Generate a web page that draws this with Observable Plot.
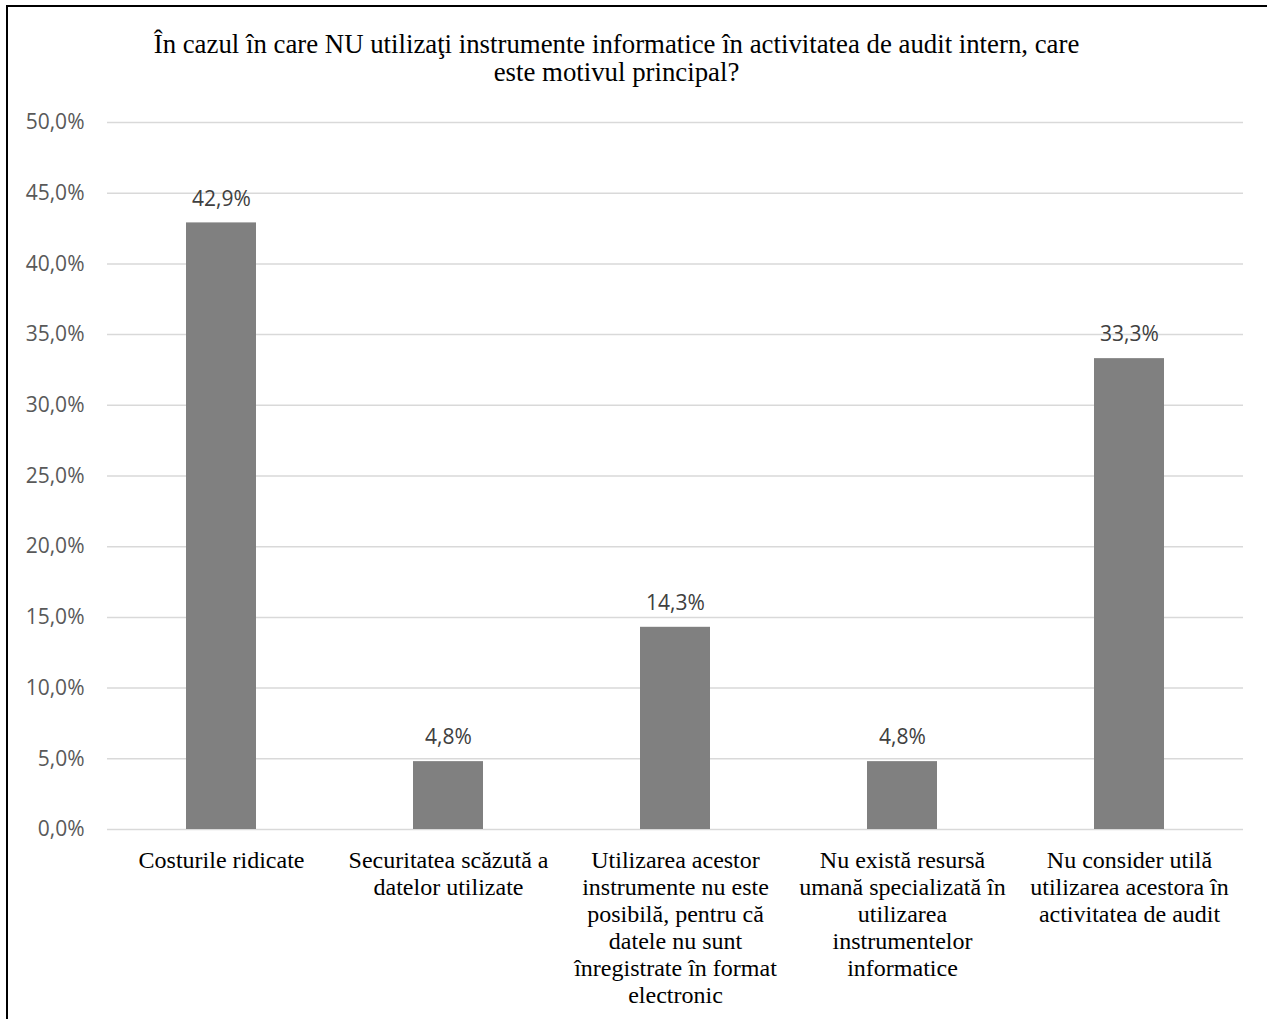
<!DOCTYPE html>
<html>
<head>
<meta charset="utf-8">
<script src="https://cdn.jsdelivr.net/npm/d3@7"></script>
<script src="https://cdn.jsdelivr.net/npm/@observablehq/plot@0.6"></script>
<style>
  html, body { margin: 0; padding: 0; background: #fff; }
  #wrap { position: relative; width: 1267px; height: 1019px; overflow: hidden; }
  #frame { position: absolute; left: 6px; top: 5px; width: 1300px; height: 1100px; border-left: 2px solid #000; border-top: 2px solid #000; box-sizing: border-box; pointer-events: none; }
  #title { position: absolute; left: 0; width: 1233px; top: 30px; text-align: center; font-family: "Liberation Serif", "Times New Roman", serif; font-size: 26.8px; line-height: 28px; color: #000; white-space: nowrap; }
  #chart { position: absolute; left: 0; top: 0; }
</style>
</head>
<body>
<div id="wrap">
  <div id="chart"></div>
  <div id="title">În cazul în care NU utilizaţi instrumente informatice în activitatea de audit intern, care<br>este motivul principal?</div>
  <div id="frame"></div>
</div>
<script>
const categories = [
  "Costurile ridicate",
  "Securitatea scăzută a\ndatelor utilizate",
  "Utilizarea acestor\ninstrumente nu este\nposibilă, pentru că\ndatele nu sunt\nînregistrate în format\nelectronic",
  "Nu există resursă\numană specializată în\nutilizarea\ninstrumentelor\ninformatice",
  "Nu consider utilă\nutilizarea acestora în\nactivitatea de audit"
];
const values = [42.9, 4.8, 14.3, 4.8, 33.3];
const yTicks = [0, 5, 10, 15, 20, 25, 30, 35, 40, 45, 50];

const data = categories.map((c, i) => ({category: c, value: values[i]}));
const fmt = v => v.toFixed(1).replace(".", ",") + "%";

const plot = Plot.plot({
  width: 1267,
  height: 1019,
  marginTop: 122,
  marginBottom: 190,
  marginLeft: 107,
  marginRight: 24,
  x: {domain: categories, paddingInner: 0.69, paddingOuter: 0.345, label: null},
  y: {domain: [0, 50], label: null},
  style: {background: "transparent"},
  marks: [
    Plot.gridY(yTicks, {stroke: "#d9d9d9", strokeOpacity: 1, strokeWidth: 1.5}),
    Plot.axisY(yTicks, {tickSize: 0, tickPadding: 23, tickFormat: fmt, fontSize: 21, fill: "#595959", fontFamily: "'Open Sans', sans-serif", label: null}),
    Plot.barY(data, {x: "category", y: "value", fill: "#808080"}),
    Plot.text(data, {x: "category", y: "value", text: d => fmt(d.value), dy: -24, fontSize: 21, fill: "#404040", fontFamily: "'Open Sans', sans-serif"}),
    Plot.axisX({tickSize: 0, tickPadding: 19, fontSize: 24, lineHeight: 1.13, fill: "#000", fontFamily: "'Liberation Serif', 'Times New Roman', serif", label: null})
  ]
});
document.getElementById("chart").appendChild(plot);
</script>
</body>
</html>
